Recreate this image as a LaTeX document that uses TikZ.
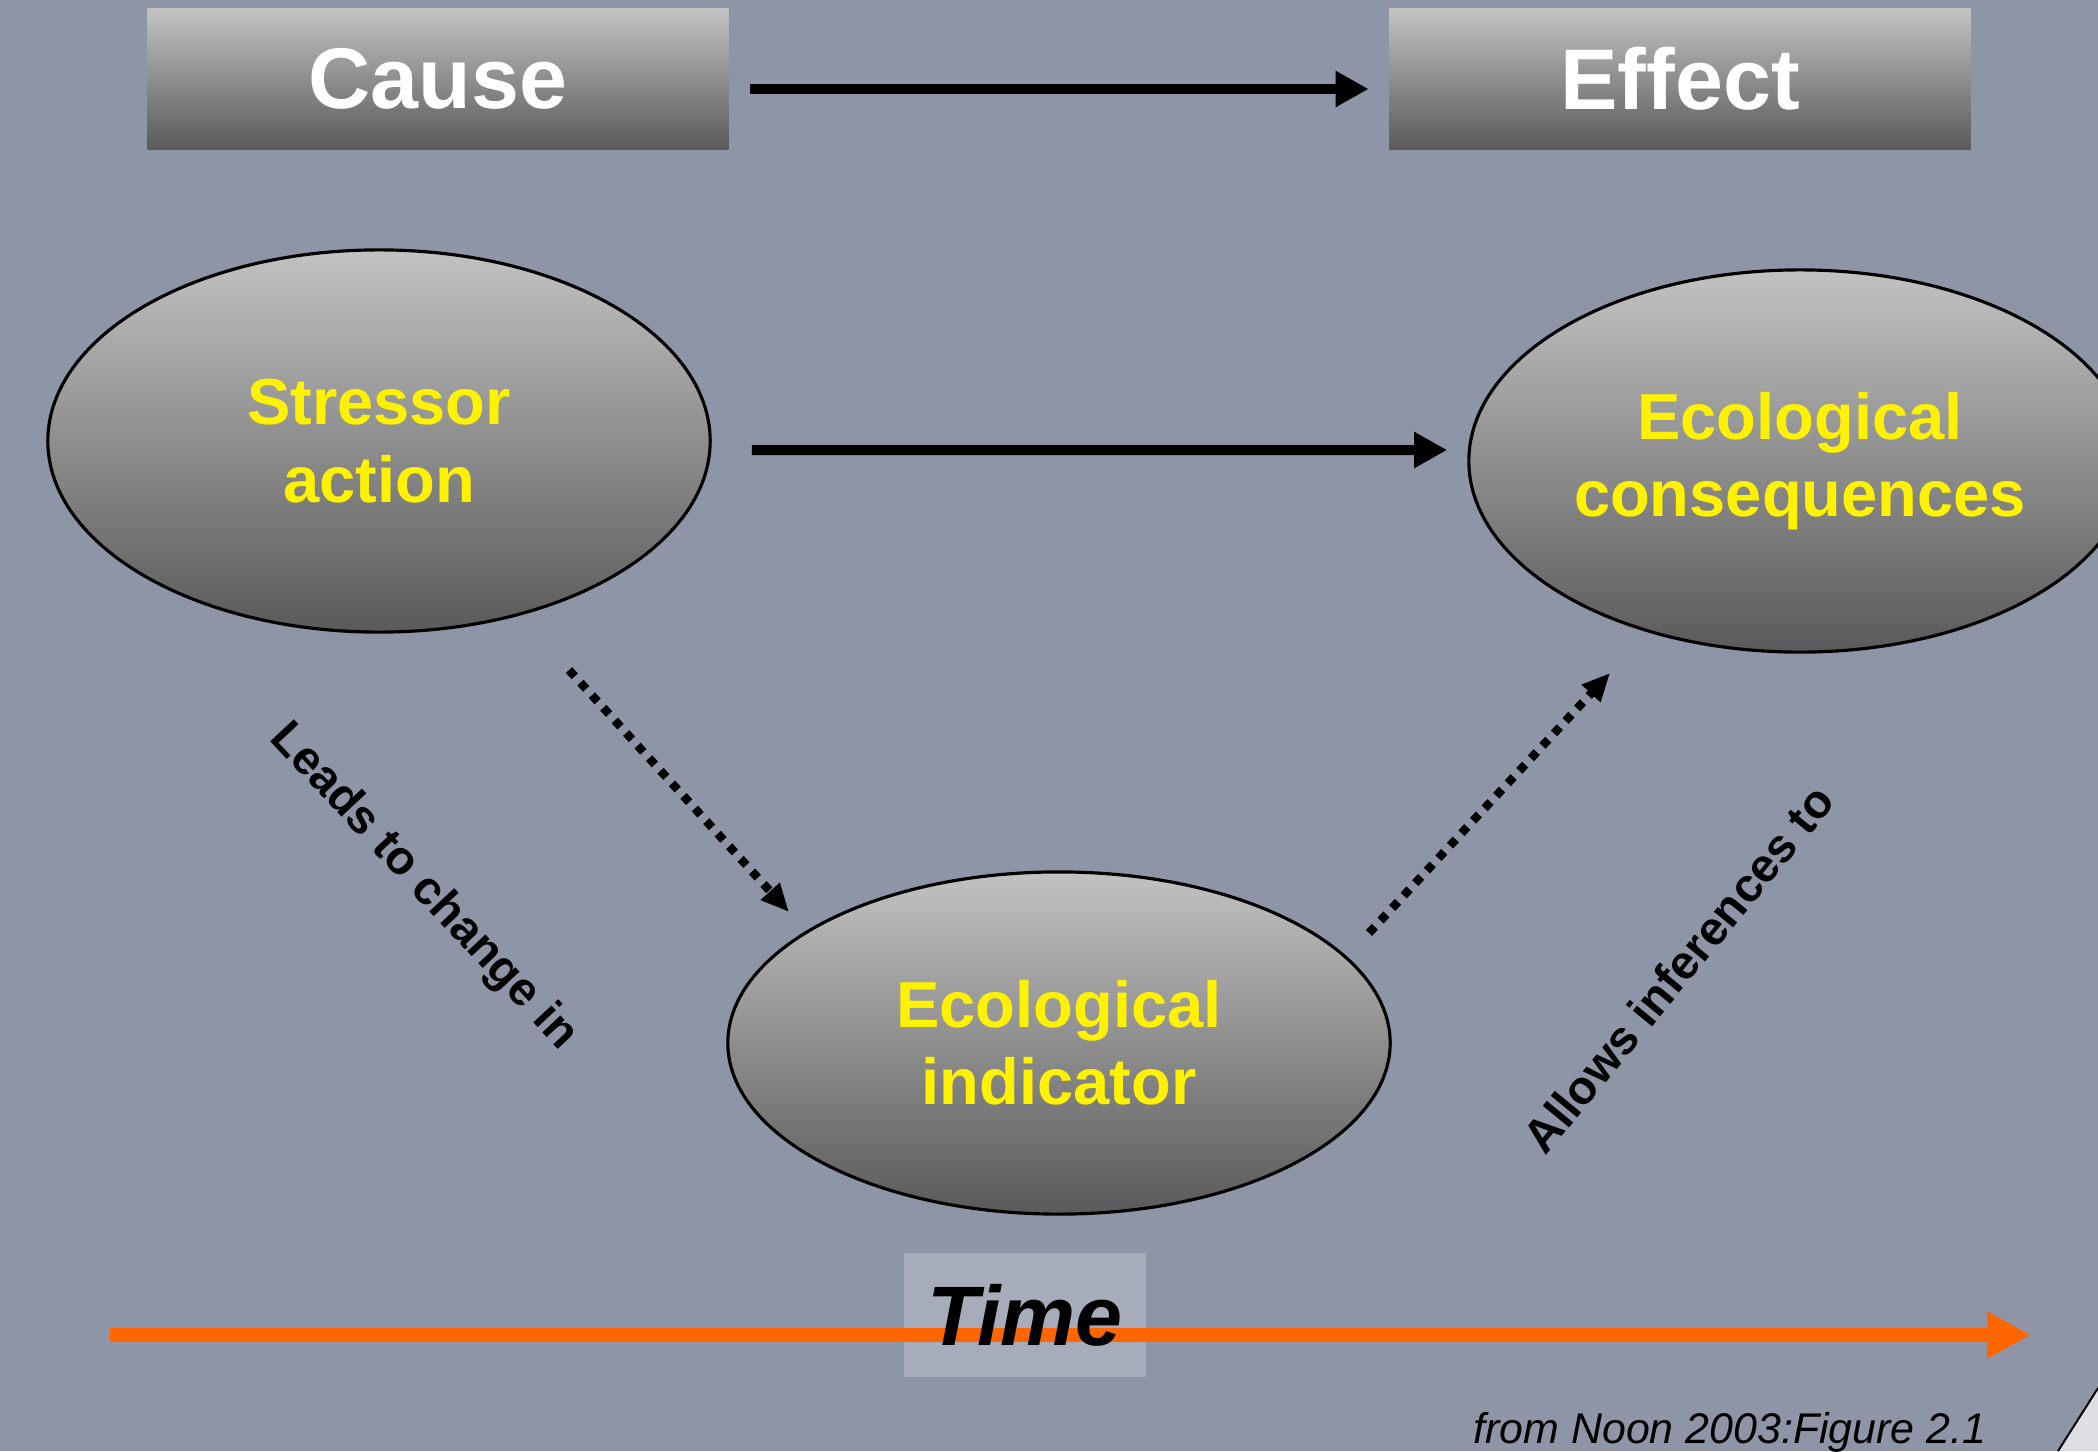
\documentclass[tikz,border=0pt]{standalone}
\usepackage{fontspec}
\setmainfont{Liberation Sans}
\usetikzlibrary{positioning, arrows.meta, shapes.geometric}

\definecolor{photo}{RGB}{141,149,166}
\definecolor{boxtop}{RGB}{194,194,194}
\definecolor{boxbot}{RGB}{90,90,90}
\definecolor{timeline}{RGB}{255,102,0}

\begin{document}
\begin{tikzpicture}[x=0.01cm, y=-0.01cm,
    headbox/.style={rectangle, top color=boxtop, bottom color=boxbot, minimum width=5.81cm, minimum height=1.40cm, inner sep=0pt, text=white, font=\bfseries\fontsize{24.5}{29}\selectfont},
    bubble/.style={ellipse, draw=black, line width=0.9pt, top color=boxtop, bottom color=boxbot, minimum width=6.62cm, inner sep=0pt, text=yellow, align=center, font=\bfseries\fontsize{18.5}{22}\selectfont},
    steplabel/.style={inner sep=0pt, font=\bfseries\fontsize{13.4}{16}\selectfont},
    dotarrow/.style={-{Triangle[length=0.28cm, width=0.24cm]}, line width=0.085cm, dash pattern=on 0.085cm off 0.085cm},
    >={Triangle[length=0.33cm, width=0.34cm]}]
    \useasboundingbox (0,0) rectangle (2098,1451);
    \clip (0,0) rectangle (2098,1451);
    \fill[photo] (0,0) rectangle (2098,1451);

    \node[headbox] (cause) at (438,79) {Cause};
    \node[headbox] (effect) at (1680,79) {Effect};
    \node[bubble, minimum height=3.82cm] (stressor) at (379,441) {Stressor\\action};
    \node[bubble, minimum height=3.82cm] (conseq) at (1800,461) {Ecological\\consequences};
    \node[bubble, minimum height=3.42cm] (indicator) at (1059,1043) {Ecological\\indicator};

    \draw[->, line width=0.1cm, shorten <=0.21cm, shorten >=0.2cm] ([yshift=-0.1cm]cause.east) -- ([yshift=-0.1cm]effect.west);
    \draw[->, line width=0.1cm, shorten <=0.4cm, shorten >=0.2cm] ([yshift=-0.09cm]stressor.east) -- ([yshift=0.11cm]conseq.west);

    % dotted links via the indicator
    \coordinate (leadfrom) at (569,670);
    \coordinate (leadto) at (789,912);
    \coordinate (inferfrom) at (1369,933);
    \coordinate (inferto) at (1610,673);
    \draw[dotarrow] (leadfrom) -- (leadto);
    \draw[dotarrow] (inferfrom) -- (inferto);
    \node[steplabel, rotate=-47] (leads) at (423,887) {Leads to change in};
    \node[steplabel, rotate=50.6] (allows) at (1678,969) {Allows inferences to};

    % time axis
    \node[fill=white, fill opacity=0.22, minimum width=2.42cm, minimum height=1.24cm] (timebox) at (1025,1315) {};
    \coordinate (timefrom) at (110,1335);
    \coordinate (timeto) at (2031,1335);
    \draw[timeline, line width=0.14cm, -{Triangle[length=0.44cm, width=0.44cm]}] (timefrom) -- (timeto);
    \node[font=\bfseries\itshape\fontsize{24}{29}\selectfont] (time) at (timebox) {Time};

    \node[anchor=base east, inner sep=0pt, font=\itshape\fontsize{12.2}{14}\selectfont] (source) at (1987,1443) {from Noon 2003:Figure 2.1};

    \fill[white!70!photo] (2058,1451) -- (2098,1388) -- (2098,1451) -- cycle;
    \draw[line width=0.02cm] (2058,1451) -- (2098,1388);
\end{tikzpicture}
\end{document}
